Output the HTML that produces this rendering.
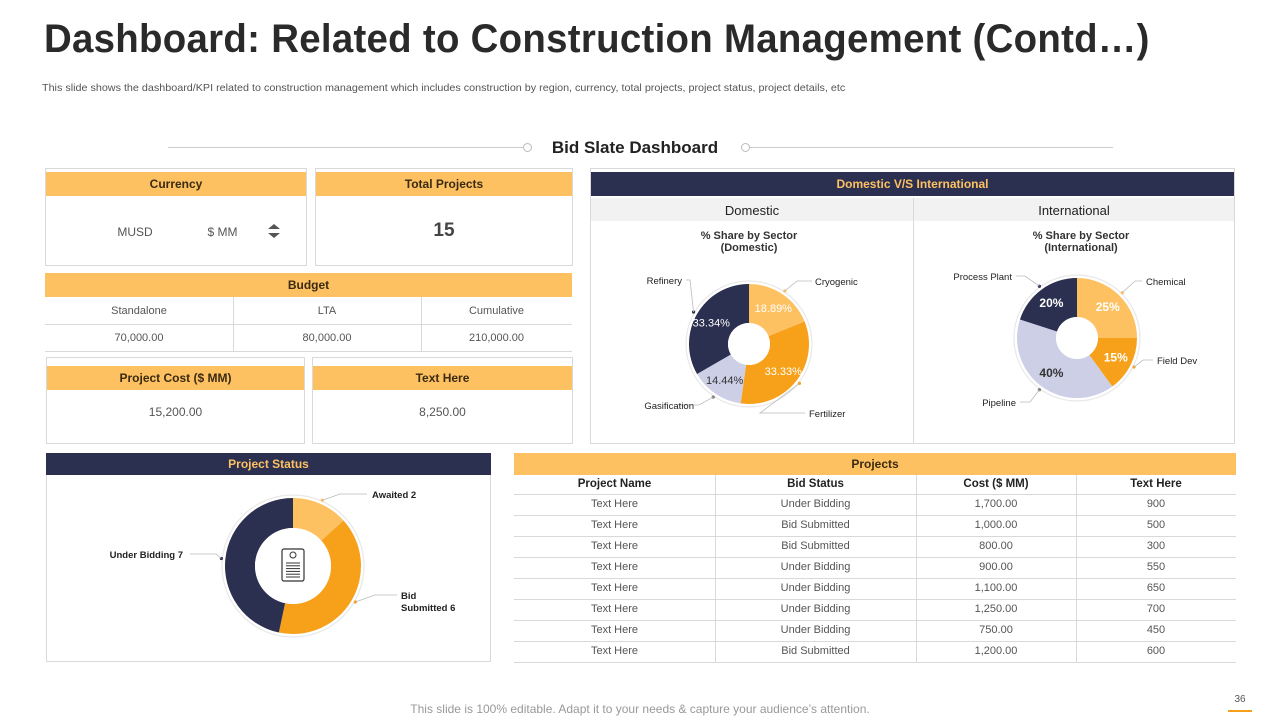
<!DOCTYPE html>
<html><head><meta charset="utf-8"><style>
*{box-sizing:border-box;margin:0;padding:0}
body{width:1280px;height:720px;background:#fff;font-family:"Liberation Sans",sans-serif;position:relative;overflow:hidden;color:#444}
.a{position:absolute}
.box{position:absolute;border:1px solid #d9d9d9;background:#fff}
.oh{position:absolute;background:#FDC162;color:#3a2a12;font-weight:bold;font-size:12px;text-align:center}
.nh{position:absolute;background:#2B2F50;color:#FDC162;font-weight:bold;font-size:12px;text-align:center}
.t{position:absolute;font-size:11px;color:#555;text-align:center}
.hl{position:absolute;height:1px;background:#d9d9d9}
.vl{position:absolute;width:1px;background:#d9d9d9}
</style></head><body>
<div class="a" style="left:44px;top:17px;font-size:40px;font-weight:bold;color:#2a2a2a;white-space:nowrap;letter-spacing:0.3px;transform-origin:left top;transform:scaleX(0.96)">Dashboard: Related to Construction Management (Contd…)</div>
<div class="a" style="left:42px;top:82px;font-size:10.5px;color:#555;white-space:nowrap;transform-origin:left top;transform:scaleX(1.025)">This slide shows the dashboard/KPI related to construction management  which includes construction by region, currency, total projects, project status, project details, etc</div>

<div class="hl" style="left:168px;top:147px;width:355px;background:#ccc"></div>
<div class="a" style="left:523px;top:143px;width:9px;height:9px;border:1px solid #bbb;border-radius:50%;background:#fff"></div>
<div class="a" style="left:535px;top:138px;width:200px;text-align:center;font-size:17px;font-weight:bold;color:#222">Bid Slate Dashboard</div>
<div class="a" style="left:741px;top:143px;width:9px;height:9px;border:1px solid #bbb;border-radius:50%;background:#fff"></div>
<div class="hl" style="left:750px;top:147px;width:363px;background:#ccc"></div>

<!-- currency -->
<div class="box" style="left:45px;top:168px;width:262px;height:98px"></div>
<div class="oh" style="left:46px;top:172px;width:260px;height:24px;line-height:24px">Currency</div>
<div class="t" style="left:100px;top:225px;width:70px;font-size:12px">MUSD</div>
<div class="t" style="left:195px;top:225px;width:55px;font-size:12px">$ MM</div>
<div class="a" style="left:268px;top:224px;width:0;height:0;border-left:6px solid transparent;border-right:6px solid transparent;border-bottom:5px solid #555"></div>
<div class="a" style="left:268px;top:233px;width:0;height:0;border-left:6px solid transparent;border-right:6px solid transparent;border-top:5px solid #555"></div>

<div class="box" style="left:315px;top:168px;width:258px;height:98px"></div>
<div class="oh" style="left:316px;top:172px;width:256px;height:24px;line-height:24px">Total Projects</div>
<div class="t" style="left:316px;top:220px;width:256px;font-size:19px;font-weight:bold;color:#444">15</div>

<!-- budget -->
<div class="oh" style="left:45px;top:273px;width:527px;height:24px;line-height:24px">Budget</div>
<div class="hl" style="left:45px;top:324px;width:527px"></div>
<div class="hl" style="left:45px;top:351px;width:527px"></div>
<div class="vl" style="left:233px;top:297px;height:54px"></div>
<div class="vl" style="left:421px;top:297px;height:54px"></div>
<div class="t" style="left:45px;top:305px;width:188px">Standalone</div>
<div class="t" style="left:233px;top:305px;width:188px">LTA</div>
<div class="t" style="left:421px;top:305px;width:151px">Cumulative</div>
<div class="t" style="left:45px;top:332px;width:188px">70,000.00</div>
<div class="t" style="left:233px;top:332px;width:188px">80,000.00</div>
<div class="t" style="left:421px;top:332px;width:151px">210,000.00</div>

<div class="box" style="left:46px;top:357px;width:259px;height:87px"></div>
<div class="oh" style="left:47px;top:366px;width:257px;height:24px;line-height:24px">Project Cost ($ MM)</div>
<div class="t" style="left:47px;top:405px;width:257px;font-size:12px">15,200.00</div>
<div class="box" style="left:312px;top:357px;width:261px;height:87px"></div>
<div class="oh" style="left:313px;top:366px;width:259px;height:24px;line-height:24px">Text Here</div>
<div class="t" style="left:313px;top:405px;width:259px;font-size:12px">8,250.00</div>

<!-- domestic/international -->
<div class="box" style="left:590px;top:168px;width:645px;height:276px"></div>
<div class="nh" style="left:591px;top:172px;width:643px;height:24px;line-height:24px">Domestic V/S International</div>
<div class="a" style="left:591px;top:198px;width:643px;height:23px;background:#f2f2f2"></div>
<div class="vl" style="left:913px;top:198px;height:245px"></div>
<div class="a" style="left:591px;top:203px;width:322px;text-align:center;font-size:13px;color:#222">Domestic</div>
<div class="a" style="left:914px;top:203px;width:320px;text-align:center;font-size:13px;color:#222">International</div>
<div class="a" style="left:591px;top:230px;width:316px;text-align:center;font-size:11px;font-weight:bold;color:#333;line-height:12px">% Share by Sector<br>(Domestic)</div>
<div class="a" style="left:914px;top:230px;width:334px;text-align:center;font-size:11px;font-weight:bold;color:#333;line-height:12px">% Share by Sector<br>(International)</div>

<!-- project status -->
<div class="box" style="left:46px;top:453px;width:445px;height:209px"></div>
<div class="nh" style="left:46px;top:453px;width:445px;height:22px;line-height:22px">Project Status</div>

<!-- projects table -->
<div class="oh" style="left:514px;top:453px;width:722px;height:22px;line-height:22px">Projects</div>
<div id="tbl"></div>

<svg class="a" id="charts" style="left:0;top:0" width="1280" height="720"></svg>

<div class="a" style="left:0;top:702px;width:1280px;text-align:center;font-size:12px;color:#999">This slide is 100% editable. Adapt it to your needs &amp; capture your audience’s attention.</div>
<div class="a" style="left:1228px;top:694px;width:24px;text-align:center;font-size:10px;color:#555">36</div>
<div class="a" style="left:1228px;top:710px;width:24px;height:2px;background:#F7A11A"></div>

<script>
const domLabels=["Cryogenic","Fertilizer","Gasification","Refinery"];
const domValues=[18.89,33.33,14.44,33.34];
const intLabels=["Chemical","Field Dev","Pipeline","Process Plant"];
const intValues=[25,15,40,20];
const statusLabels=["Awaited  2","Bid Submitted 6","Under Bidding 7"];
const statusValues=[2,6,7];
const tblHead=["Project Name","Bid Status","Cost ($ MM)","Text Here"];
const projNames=["Text Here","Text Here","Text Here","Text Here","Text Here","Text Here","Text Here","Text Here"];
const bidStatus=["Under Bidding","Bid Submitted","Bid Submitted","Under Bidding","Under Bidding","Under Bidding","Under Bidding","Bid Submitted"];
const costs=[1700,1000,800,900,1100,1250,750,1200];
const extra=[900,500,300,550,650,700,450,600];

const NS="http://www.w3.org/2000/svg";
const svg=document.getElementById('charts');
function mk(t,a,p){const e=document.createElementNS(NS,t);for(const k in a)e.setAttribute(k,a[k]);(p||svg).appendChild(e);return e;}
function pt(cx,cy,r,ang){return[cx+r*Math.sin(ang),cy-r*Math.cos(ang)];}
function arc(cx,cy,r0,r1,a0,a1){const l=(a1-a0)>Math.PI?1:0;const p1=pt(cx,cy,r1,a0),p2=pt(cx,cy,r1,a1),p3=pt(cx,cy,r0,a1),p4=pt(cx,cy,r0,a0);
return `M${p1}L${p1}A${r1},${r1} 0 ${l} 1 ${p2}L${p3}A${r0},${r0} 0 ${l} 0 ${p4}Z`;}
const cols=["#FDC162","#F7A11A","#CDCFE6","#2B2F50"];
function donut(name,cx,cy,r0,r1,vals,colors,labels,txtCols,showPct,lblPos,bold){
  const tot=vals.reduce((a,b)=>a+b,0);let a=0;
  mk('circle',{cx,cy,r:r1+3,fill:'none',stroke:'#e8e8e8','stroke-width':1.2});
  vals.forEach((v,i)=>{const a1=a+v/tot*2*Math.PI;
    const p=mk('path',{d:arc(cx,cy,r0,r1,a,a1),fill:colors[i]});
    
    
    const mid=(a+a1)/2;
    if(showPct){const q=pt(cx,cy,(r0+r1)/2+3,mid);
      const t=mk('text',{x:q[0],y:q[1]+4,'text-anchor':'middle','font-size':bold?12:11,'font-weight':bold?'bold':'normal',fill:txtCols[i]});
      t.textContent=(bold?Math.round(v):v.toFixed(2))+'%';}
    const d=pt(cx,cy,r1+4,mid);mk('circle',{cx:d[0],cy:d[1],r:1.6,fill:colors[i]==cols[2]?'#777':colors[i]});
    const lp=lblPos[i];
    mk('polyline',{points:`${d[0]},${d[1]} ${lp[2]},${lp[1]-4} ${lp[3]},${lp[1]-4}`,fill:'none',stroke:'#bbb','stroke-width':0.8});
    const lines=lp[5]||[labels[i]];
    lines.forEach((s,j)=>{const t=mk('text',{x:lp[0],y:lp[1]+j*12,'text-anchor':lp[4],'font-size':9.5,'font-weight':lp[6]?'bold':'normal',fill:'#222'});t.textContent=s;});
    a=a1;});
  mk('circle',{cx,cy,r:r0,fill:'#fff'});
}
donut('domestic-pie',749,344,21,60,domValues,cols,domLabels,['#fff','#fff','#333','#fff'],true,
 [[815,285,797,812,'start'],[809,417,760,805,'start'],[694,409,699,678,'end'],[682,284,690,686,'end']],false);
donut('international-pie',1077,338,21,60,intValues,cols,intLabels,['#fff','#fff','#333','#fff'],true,
 [[1146,285,1135,1142,'start'],[1157,364,1143,1153,'start'],[1016,406,1030,1020,'end'],[1012,280,1025,1016,'end']],true);
donut('project-status-donut',293,566,38,68,statusValues,[cols[0],cols[1],cols[3]],statusLabels,[],false,
 [[372,498,340,367,'start',0,true],[401,599,375,397,'start',['Bid','Submitted 6'],true],[183,558,216,190,'end',0,true]],false);
// icon
mk('rect',{x:282,y:549,width:22,height:32,rx:2,fill:'#fff',stroke:'#333','stroke-width':1.2});
mk('circle',{cx:293,cy:555,r:3,fill:'none',stroke:'#333'});
for(let i=0;i<6;i++)mk('line',{x1:286,x2:300,y1:563+i*2.8,y2:563+i*2.8,stroke:'#333','stroke-width':1});

// table
const tb=document.getElementById('tbl');
const colX=[514,715,916,1076,1236];
function cell(txt,x,w,y,bold){const d=document.createElement('div');d.className='t';d.style.left=x+'px';d.style.width=w+'px';d.style.top=y+'px';
 if(bold){d.style.fontWeight='bold';d.style.color='#222';d.style.fontSize='11.5px';}d.textContent=txt;tb.appendChild(d);}
tblHead.forEach((h,i)=>cell(h,colX[i],colX[i+1]-colX[i],478,true));
for(let r=0;r<=8;r++){const l=document.createElement('div');l.className='hl';l.style.left='514px';l.style.width='722px';l.style.top=(494+r*21)+'px';tb.appendChild(l);}
for(let i=1;i<4;i++){const l=document.createElement('div');l.className='vl';l.style.left=colX[i]+'px';l.style.top='475px';l.style.height='187px';tb.appendChild(l);}
const fmt=v=>v.toLocaleString('en-US',{minimumFractionDigits:2});
projNames.forEach((n,r)=>{const y=498+r*21;
 const row=document.createElement('div');row.className='a';row.style.left='514px';row.style.top=(494+r*21)+'px';row.style.width='722px';row.style.height='21px';
 
 
 tb.appendChild(row);
 cell(n,colX[0],201,y);cell(bidStatus[r],colX[1],201,y);cell(fmt(costs[r]),colX[2],160,y);cell(String(extra[r]),colX[3],160,y);});
</script>
</body></html>
